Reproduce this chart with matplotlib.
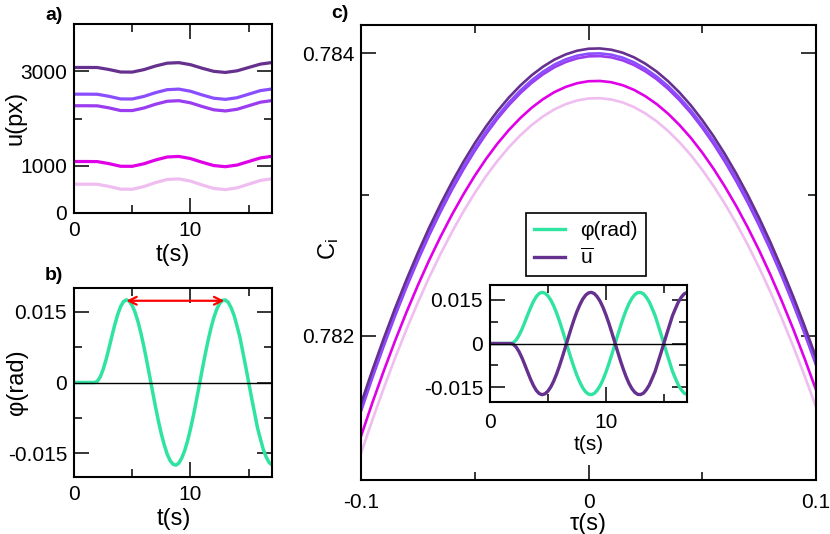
import matplotlib
matplotlib.use("Agg")
import matplotlib.pyplot as plt
import numpy as np
from matplotlib.ticker import FixedLocator, FixedFormatter, NullFormatter

plt.rcParams['font.family'] = ['Liberation Sans', 'DejaVu Sans']
plt.rcParams['mathtext.fontset'] = 'custom'
plt.rcParams['mathtext.rm'] = 'Liberation Sans'
plt.rcParams['mathtext.it'] = 'Liberation Sans:italic'
plt.rcParams['axes.unicode_minus'] = False

# ---------------------------------------------------------------------------
# data
# ---------------------------------------------------------------------------
t_phi = np.arange(0, 17.001, 0.25)
phi = [0, 0, 0, 0, 0, 0, 0, 0, 0.00024, 0.00117, 0.00275, 0.00482,
       0.00723, 0.00977, 0.01222, 0.01437, 0.01606, 0.01713, 0.0175, 0.0172,
       0.01629, 0.01482, 0.01283, 0.01039, 0.0076, 0.00453, 0.00131, -0.00196,
       -0.00516, -0.00817, -0.01091, -0.01321, -0.01516, -0.01652, -0.0173, -0.01749,
       -0.01706, -0.01599, -0.01445, -0.01237, -0.00985, -0.00702, -0.0039, -0.00065,
       0.00261, 0.00578, 0.00875, 0.01142, 0.01369, 0.01546, 0.01671, 0.0174,
       0.01745, 0.01695, 0.01577, 0.01416, 0.0119, 0.00953, 0.00639, 0.00326,
       0.0, -0.00326, -0.00639, -0.00953, -0.0119, -0.01416, -0.01577, -0.01695,
       -0.01745]
u_mean = [0, 0, 0, 0, 0, 0, 0, 0, -0.00024, -0.00117, -0.00275, -0.00482,
          -0.00723, -0.00977, -0.01222, -0.01437, -0.01606, -0.01713, -0.0175, -0.0172,
          -0.01629, -0.01482, -0.01283, -0.01039, -0.0076, -0.00453, -0.00131, 0.00196,
          0.00516, 0.00817, 0.01091, 0.01321, 0.01516, 0.01652, 0.0173, 0.01749,
          0.01706, 0.01599, 0.01445, 0.01237, 0.00985, 0.00702, 0.0039, 0.00065,
          -0.00261, -0.00578, -0.00875, -0.01142, -0.01369, -0.01546, -0.01671, -0.0174,
          -0.01745, -0.01695, -0.01577, -0.01416, -0.0119, -0.00953, -0.00639, -0.00326,
          0.0, 0.00326, 0.00639, 0.00953, 0.0119, 0.01416, 0.01577, 0.01695,
          0.01745]

t_u = np.arange(0, 17.01, 1.0)
u_dark = [3080, 3080, 3079, 3037, 2984, 2982, 3034, 3111, 3171, 3182,
          3139, 3064, 2998, 2975, 3009, 3080, 3151, 3185]
u_violet = [2515, 2515, 2513, 2470, 2414, 2413, 2467, 2547, 2610, 2622,
            2577, 2499, 2429, 2405, 2440, 2515, 2590, 2625]
u_purple = [2270, 2270, 2268, 2225, 2169, 2168, 2222, 2302, 2365, 2377,
            2332, 2254, 2184, 2160, 2195, 2270, 2345, 2380]
u_magenta = [1090, 1090, 1088, 1045, 989, 988, 1042, 1122, 1185, 1197,
             1152, 1074, 1004, 980, 1015, 1090, 1165, 1200]
u_pink = [610, 610, 608, 563, 504, 503, 560, 644, 710, 722,
          675, 593, 520, 495, 532, 610, 688, 725]

tau = np.round(np.arange(-0.1, 0.10001, 0.005), 3)
c_dark = [0.781520, 0.781757, 0.781982, 0.782196, 0.782398, 0.782588, 0.782767,
          0.782933, 0.783088, 0.783231, 0.783363, 0.783483, 0.783591, 0.783687,
          0.783771, 0.783844, 0.783905, 0.783955, 0.783992, 0.784018, 0.784032,
          0.784034, 0.784025, 0.784004, 0.783971, 0.783926, 0.783870, 0.783802,
          0.783722, 0.783631, 0.783527, 0.783412, 0.783285, 0.783147, 0.782997,
          0.782835, 0.782661, 0.782475, 0.782278, 0.782069, 0.781848]
c_violet = [0.781485, 0.781722, 0.781947, 0.782161, 0.782363, 0.782553, 0.782732,
            0.782898, 0.783053, 0.783196, 0.783328, 0.783448, 0.783556, 0.783652,
            0.783736, 0.783809, 0.783870, 0.783920, 0.783957, 0.783983, 0.783997,
            0.783999, 0.783990, 0.783969, 0.783936, 0.783891, 0.783835, 0.783767,
            0.783687, 0.783596, 0.783492, 0.783377, 0.783250, 0.783112, 0.782962,
            0.782800, 0.782626, 0.782440, 0.782243, 0.782034, 0.781813]
c_purple = [0.781466, 0.781703, 0.781928, 0.782142, 0.782344, 0.782534, 0.782713,
            0.782879, 0.783034, 0.783177, 0.783309, 0.783429, 0.783537, 0.783633,
            0.783717, 0.783790, 0.783851, 0.783901, 0.783938, 0.783964, 0.783978,
            0.783980, 0.783971, 0.783950, 0.783917, 0.783872, 0.783816, 0.783748,
            0.783668, 0.783577, 0.783473, 0.783358, 0.783231, 0.783093, 0.782943,
            0.782781, 0.782607, 0.782421, 0.782224, 0.782015, 0.781794]
c_magenta = [0.781290, 0.781527, 0.781752, 0.781966, 0.782168, 0.782358, 0.782537,
             0.782703, 0.782858, 0.783001, 0.783133, 0.783253, 0.783361, 0.783457,
             0.783541, 0.783614, 0.783675, 0.783725, 0.783762, 0.783788, 0.783802,
             0.783804, 0.783795, 0.783774, 0.783741, 0.783696, 0.783640, 0.783572,
             0.783492, 0.783401, 0.783297, 0.783182, 0.783055, 0.782917, 0.782767,
             0.782605, 0.782431, 0.782245, 0.782048, 0.781839, 0.781618]
c_pink = [0.781168, 0.781405, 0.781630, 0.781844, 0.782046, 0.782236, 0.782415,
          0.782581, 0.782736, 0.782879, 0.783011, 0.783131, 0.783239, 0.783335,
          0.783419, 0.783492, 0.783553, 0.783603, 0.783640, 0.783666, 0.783680,
          0.783682, 0.783673, 0.783652, 0.783619, 0.783574, 0.783518, 0.783450,
          0.783370, 0.783279, 0.783175, 0.783060, 0.782933, 0.782795, 0.782645,
          0.782483, 0.782309, 0.782123, 0.781926, 0.781717, 0.781496]

period_start, period_end, period_level = 4.5, 12.9, 0.0173

# colours
DARK = "#66308f"
VIOLET = "#8a4dff"
PURPLE = "#9b3cf0"
MAGENTA = "#e000e8"
PINK = "#efbdf0"
GREEN = "#2fe3a0"

# ---------------------------------------------------------------------------
W, H = 830, 534
fig = plt.figure(figsize=(W / 100, H / 100), dpi=100)


def px_axes(x0, y0, x1, y1):
    return fig.add_axes([x0 / W, 1 - y1 / H, (x1 - x0) / W, (y1 - y0) / H])


def style(ax, xmaj, xmin, ymaj, ymin, xlab, ylab, xpad=6, ypad=5):
    ax.xaxis.set_major_locator(FixedLocator(xmaj))
    ax.xaxis.set_minor_locator(FixedLocator(xmin))
    ax.yaxis.set_major_locator(FixedLocator(ymaj))
    ax.yaxis.set_minor_locator(FixedLocator(ymin))
    ax.xaxis.set_major_formatter(FixedFormatter(xlab))
    ax.yaxis.set_major_formatter(FixedFormatter(ylab))
    ax.xaxis.set_minor_formatter(NullFormatter())
    ax.yaxis.set_minor_formatter(NullFormatter())
    ax.tick_params(which='both', direction='in', top=True, right=True,
                   width=1.1, labelsize=15)
    ax.tick_params(which='major', length=10.5)
    ax.tick_params(which='minor', length=5.5)
    ax.tick_params(axis='x', pad=xpad)
    ax.tick_params(axis='y', pad=ypad)
    for s in ax.spines.values():
        s.set_linewidth(1.5)


def fig_text(x, y, s, **kw):
    fig.text(x / W, 1 - y / H, s, ha='center', va='center', **kw)


# --- panel a --------------------------------------------------------------
ax_a = px_axes(74, 24, 272, 213)
for vals, col in [(u_pink, PINK), (u_magenta, MAGENTA), (u_purple, PURPLE),
                  (u_violet, VIOLET), (u_dark, DARK)]:
    ax_a.plot(t_u, vals, color=col, lw=2.3)
ax_a.set_xlim(0, 17)
ax_a.set_ylim(0, 4000)
style(ax_a, [0, 10], [5, 15], [0, 1000, 3000], [2000],
      ["0", "10"], ["0", "1000", "3000"])

# --- panel b --------------------------------------------------------------
ax_b = px_axes(74, 288, 272, 477)
ax_b.plot(t_phi, phi, color=GREEN, lw=2.5)
ax_b.axhline(0, color="black", lw=1.0, zorder=3)
ax_b.annotate("", xy=(period_end, period_level), xytext=(period_start, period_level),
              arrowprops=dict(arrowstyle="<->", color="red", lw=1.6,
                              mutation_scale=14, shrinkA=0, shrinkB=0))
ax_b.set_xlim(0, 17)
ax_b.set_ylim(-0.02, 0.02)
style(ax_b, [0, 10], [5, 15], [-0.015, 0, 0.015], [-0.0075, 0.0075],
      ["0", "10"], ["-0.015", "0", "0.015"])

# --- panel c --------------------------------------------------------------
ax_c = px_axes(361, 25, 816, 480)
for vals, col in [(c_pink, PINK), (c_magenta, MAGENTA), (c_purple, PURPLE),
                  (c_violet, VIOLET), (c_dark, DARK)]:
    ax_c.plot(tau, vals, color=col, lw=1.9)
ax_c.set_xlim(-0.1, 0.1)
ax_c.set_ylim(0.78098, 0.7842)
style(ax_c, [-0.1, 0, 0.1], [-0.05, 0.05], [0.782, 0.784], [0.783],
      ["-0.1", "0", "0.1"], ["0.782", "0.784"], xpad=9)

# --- inset ----------------------------------------------------------------
ax_in = px_axes(490, 285, 687, 402)
l_phi, = ax_in.plot(t_phi, phi, color=GREEN, lw=2.4)
l_u, = ax_in.plot(t_phi, u_mean, color=DARK, lw=2.4)
ax_in.axhline(0, color="black", lw=1.0, zorder=3)
ax_in.set_xlim(0, 17)
ax_in.set_ylim(-0.02, 0.02)
style(ax_in, [0, 10], [5, 15], [-0.015, 0, 0.015], [-0.0075, 0.0075],
      ["0", "10"], ["-0.015", "0", "0.015"], xpad=8)

leg = ax_in.legend([l_phi, l_u], ["φ(rad)", r"$\overline{\mathrm{u}}$"],
                   loc="upper left", bbox_to_anchor=(526 / W, 1 - 213 / H),
                   bbox_transform=fig.transFigure, borderaxespad=0,
                   fontsize=15, handlelength=1.45, handletextpad=0.75,
                   borderpad=0.4, labelspacing=0.35, fancybox=False,
                   framealpha=1, edgecolor="black")
leg.get_frame().set_linewidth(1.2)

# --- labels ---------------------------------------------------------------
fig_text(16, 118, "u(px)", fontsize=17, rotation=90)
fig_text(173, 255, "t(s)", fontsize=17)
fig_text(17, 382, "φ(rad)", fontsize=17, rotation=90)
fig_text(174, 519, "t(s)", fontsize=17)
fig_text(329, 249, r"$\mathrm{C_i}$", fontsize=17, rotation=90)
fig_text(588, 524, "τ(s)", fontsize=17)
fig_text(589, 445, "t(s)", fontsize=15)

fig_text(54, 15, "a)", fontsize=14, fontweight="bold")
fig_text(54, 275, "b)", fontsize=14, fontweight="bold")
fig_text(340, 13, "c)", fontsize=14, fontweight="bold")

fig.savefig("out.png", dpi=100)
